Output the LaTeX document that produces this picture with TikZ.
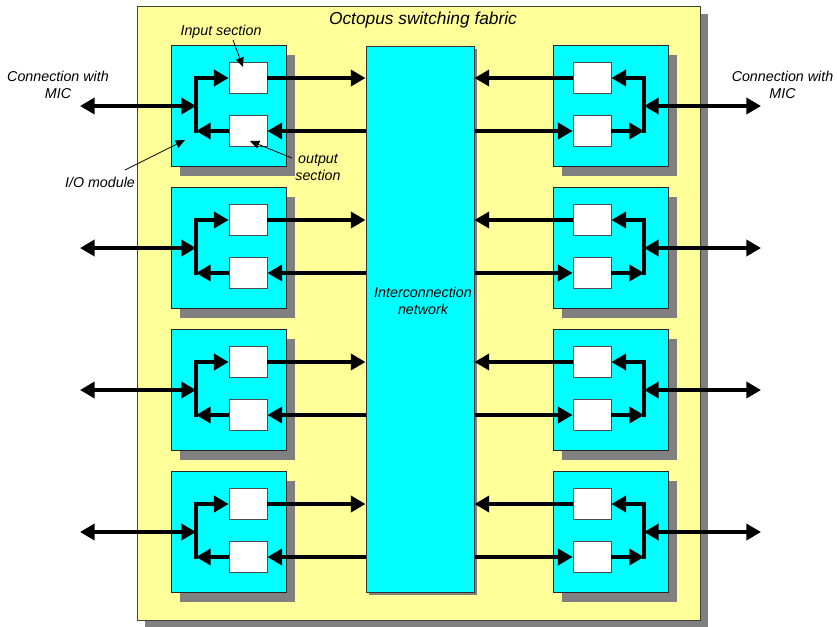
\documentclass[tikz,border=0pt]{standalone}
\usepackage{fontspec}
\setmainfont{Liberation Sans}
\usetikzlibrary{arrows.meta, positioning, shadows}
\definecolor{fabricyellow}{RGB}{255,255,153}
\definecolor{modcyan}{RGB}{0,255,255}
\definecolor{shadowgray}{RGB}{128,128,128}

\begin{document}
\begin{tikzpicture}[x=0.75pt, y=-0.75pt,
    lbl/.style={font=\fontsize{10.7}{12.8}\selectfont\itshape, inner sep=0, align=center},
    fabricbox/.style={draw=black!75, fill=fabricyellow, line width=0.75pt, inner sep=0,
        minimum width=422.25pt, minimum height=460.5pt,
        drop shadow={shadow xshift=6pt, shadow yshift=-6pt, fill=shadowgray, opacity=1}},
    netbox/.style={draw=black!80, fill=modcyan, line width=0.75pt, inner sep=0,
        minimum width=81pt, minimum height=409.5pt,
        drop shadow={shadow xshift=2.25pt, shadow yshift=-2.25pt, fill=shadowgray, opacity=1}},
    modbox/.style={draw=black!85, fill=modcyan, line width=0.75pt, inner sep=0,
        minimum width=86.25pt, minimum height=90.75pt,
        drop shadow={shadow xshift=6.75pt, shadow yshift=-6.75pt, fill=shadowgray, opacity=1}},
    secbox/.style={draw=black!70, fill=white, line width=0.6pt, inner sep=0,
        minimum width=28.5pt, minimum height=23.25pt},
    fat/.style={line width=3pt, -{Triangle[length=11pt,width=12pt]}},
    fatboth/.style={line width=3pt, {Triangle[length=11pt,width=12pt]}-{Triangle[length=11pt,width=12pt]}},
    lead/.style={line width=0.6pt, -{Triangle[length=7pt,width=6pt]}}]

        % fix the page to the size of the reference
        \useasboundingbox (0,0) rectangle (837,626);

        % the switching fabric and its title
        \node[fabricbox] (fabric) at (418.5,313) {};
        \node[lbl, font=\fontsize{13}{15}\selectfont\itshape] (title) at (423,20) {Octopus switching fabric};

        % central interconnection network
        \node[netbox] (net) at (420,319) {};
        \node[lbl] (netlabel) at (423,301) {Interconnection\\network};

        % four I/O modules on each side
        \foreach \k in {0,...,3}{
            \pgfmathsetmacro{\ym}{106+142*\k}
            % left module with its input and output section
            \node[modbox] (modL\k) at (228.5,\ym) {};
            \node[secbox] (inL\k) at (248,\ym-28) {};
            \node[secbox] (outL\k) at (248,\ym+25) {};
            \coordinate (barLa\k) at (196,\ym-28);
            \coordinate (barLm\k) at (196,\ym);
            \coordinate (barLb\k) at (196,\ym+25);
            \coordinate (micL\k) at (80,\ym);
            \draw[fat] ([yshift=-1.5pt]barLb\k) -- (barLa\k) -- (inL\k.west);
            \draw[fat] (outL\k.west) -- (barLb\k);
            \draw[fatboth] (micL\k) -- (barLm\k);
            \draw[fat] (inL\k.east) -- (inL\k.east -| net.west);
            \draw[fat] (outL\k.east -| net.west) -- (outL\k.east);
            % right module, mirrored
            \node[modbox] (modR\k) at (610.5,\ym) {};
            \node[secbox] (inR\k) at (592,\ym-28) {};
            \node[secbox] (outR\k) at (592,\ym+25) {};
            \coordinate (barRa\k) at (644,\ym-28);
            \coordinate (barRm\k) at (644,\ym);
            \coordinate (barRb\k) at (644,\ym+25);
            \coordinate (micR\k) at (761,\ym);
            \draw[fat] ([yshift=-1.5pt]barRb\k) -- (barRa\k) -- (inR\k.east);
            \draw[fat] (outR\k.east) -- (barRb\k);
            \draw[fatboth] (barRm\k) -- (micR\k);
            \draw[fat] (inR\k.west) -- (inR\k.west -| net.east);
            \draw[fat] (outR\k.west -| net.east) -- (outR\k.west);
        }

        % outside connections
        \node[lbl] (micLlabel) at (58,85) {Connection with\\MIC};
        \node[lbl] (micRlabel) at (782.5,85) {Connection with\\MIC};

        % callouts on the first module
        \node[lbl] (inlabel) at (221,32) {Input section};
        \node[lbl] (outlabel) at (318,167) {output\\section};
        \node[lbl] (iolabel) at (100,182) {I/O module};
        \coordinate (inTail) at (233,40);
        \coordinate (inTip) at (243,67);
        \coordinate (outTail) at (292,158);
        \coordinate (outTip) at (250,141);
        \coordinate (ioTail) at (125,170);
        \coordinate (ioTip) at (185,140);
        \draw[lead] (inTail) -- (inTip);
        \draw[lead] (outTail) -- (outTip);
        \draw[lead] (ioTail) -- (ioTip);
\end{tikzpicture}
\end{document}
